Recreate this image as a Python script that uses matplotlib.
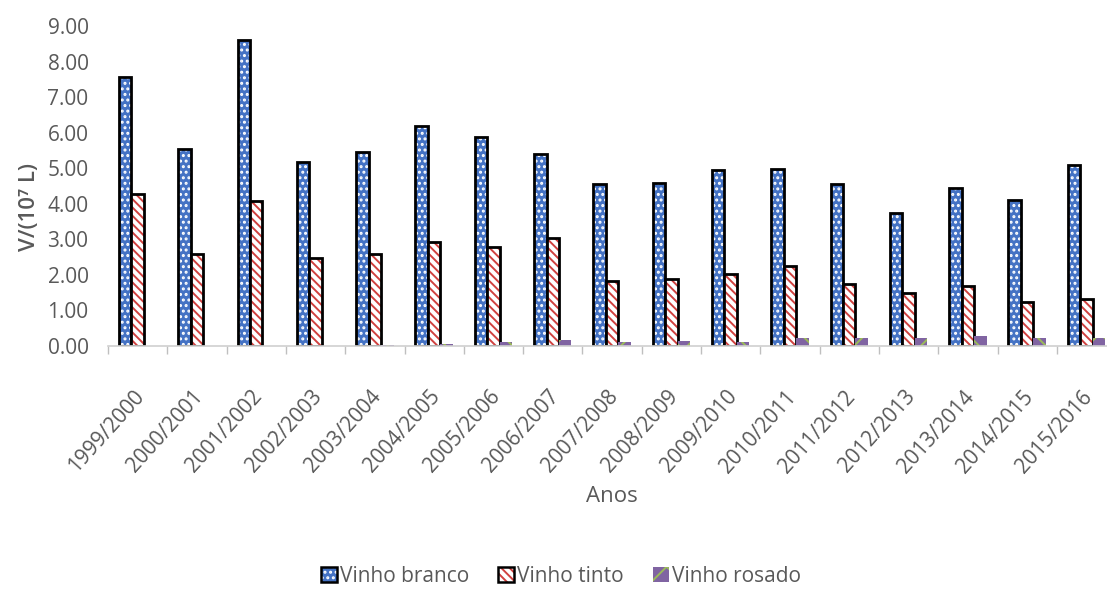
import numpy as np
import matplotlib
matplotlib.use("Agg")
import matplotlib.pyplot as plt
import matplotlib.transforms as mtransforms
from matplotlib.patches import Patch
from matplotlib.legend_handler import HandlerTuple

plt.rcParams['font.family'] = ['Open Sans', 'DejaVu Sans']
plt.rcParams['hatch.linewidth'] = 1.4

anos = ["1999/2000", "2000/2001", "2001/2002", "2002/2003", "2003/2004",
        "2004/2005", "2005/2006", "2006/2007", "2007/2008", "2008/2009",
        "2009/2010", "2010/2011", "2011/2012", "2012/2013", "2013/2014",
        "2014/2015", "2015/2016"]
branco = [7.56, 5.53, 8.60, 5.17, 5.45, 6.20, 5.87, 5.39, 4.55, 4.59,
          4.94, 4.99, 4.55, 3.75, 4.43, 4.12, 5.08]
tinto = [4.27, 2.58, 4.07, 2.47, 2.58, 2.93, 2.78, 3.03, 1.83, 1.88,
         2.02, 2.26, 1.74, 1.50, 1.69, 1.23, 1.32]
rosado = [0.0, 0.0, 0.0, 0.0, 0.04, 0.05, 0.10, 0.18, 0.10, 0.13,
          0.12, 0.22, 0.22, 0.22, 0.29, 0.22, 0.22]

grey = "#595959"
blue = "#4472C4"
red = "#D0413F"
purple = "#8064A2"
green = "#9BBB59"

W, H = 1107, 590
fig = plt.figure(figsize=(W / 100, H / 100), dpi=100)
ax = fig.add_axes([108 / W, 1 - 346 / H, 17 * 59.3 / W, 320 / H])

x = np.arange(len(anos))
bw = 0.21

# fill + hatch first, then black outline on top
ax.bar(x - bw, branco, bw, color=blue, edgecolor="white", hatch="...", linewidth=0)
ax.bar(x - bw, branco, bw, color="none", edgecolor="black", linewidth=2)
ax.bar(x, tinto, bw, color="white", edgecolor=red, hatch="\\\\\\\\", linewidth=0)
ax.bar(x, tinto, bw, color="none", edgecolor="black", linewidth=2)
ax.bar(x + bw, rosado, bw, color=purple, edgecolor=green, hatch="x", linewidth=0)

ax.set_xlim(-0.5, len(anos) - 0.5)
ax.set_ylim(0, 9)
ax.set_yticks(np.arange(0, 10, 1))
ax.set_yticklabels([f"{v:.2f}" for v in np.arange(0, 10, 1)], fontsize=15, color=grey)
ax.tick_params(axis="y", length=0, pad=14)

ax.set_xticks(x)
ax.set_xticklabels(anos, rotation=48, ha="right", rotation_mode="anchor",
                   fontsize=15, color=grey)
ax.set_xticks(np.arange(-0.5, len(anos), 1), minor=True)
ax.tick_params(axis="x", which="major", length=0, pad=29)
ax.tick_params(axis="x", which="minor", length=6, color="#BFBFBF", width=1)
shift = mtransforms.ScaledTranslation(-5 / 100, 0, fig.dpi_scale_trans)
for lab in ax.get_xticklabels():
    lab.set_transform(lab.get_transform() + shift)

for s in ["top", "right", "left"]:
    ax.spines[s].set_visible(False)
ax.spines["bottom"].set_color("#D0D0D0")
ax.spines["bottom"].set_linewidth(1.2)

fig.text(30 / W, 1 - 207 / H, "V/(10⁷ L)", rotation=90, ha="center", va="center",
         fontsize=16, color=grey, fontweight="semibold")
fig.text(612 / W, 1 - 497 / H, "Anos", ha="center", va="center", fontsize=16, color=grey)

h_branco = (Patch(facecolor=blue, edgecolor="white", hatch="...", linewidth=0),
            Patch(facecolor="none", edgecolor="black", linewidth=1.8))
h_tinto = (Patch(facecolor="white", edgecolor=red, hatch="\\\\\\\\", linewidth=0),
           Patch(facecolor="none", edgecolor="black", linewidth=1.8))
h_rosado = Patch(facecolor=purple, edgecolor=green, hatch="x", linewidth=0)
fig.legend([h_branco, h_tinto, h_rosado], ["Vinho branco", "Vinho tinto", "Vinho rosado"],
           handler_map={tuple: HandlerTuple(ndivide=1, pad=0)},
           loc="center", bbox_to_anchor=(561 / W, 1 - 576 / H),
           ncol=3, frameon=False, fontsize=15, handlelength=0.75, handleheight=0.75,
           handletextpad=0.15, columnspacing=1.4, labelcolor=grey)

fig.savefig("out.png", dpi=100)
